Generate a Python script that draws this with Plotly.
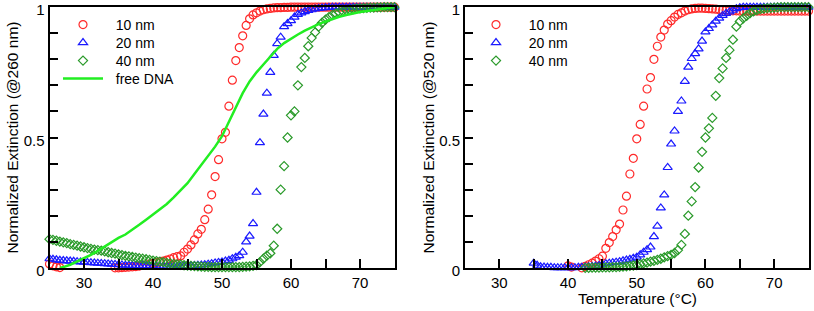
import plotly.graph_objects as go

# ---------------- data ----------------
temps_left = [25.0, 25.5, 26.0, 26.5, 27.0, 27.5, 28.0, 28.5, 29.0, 29.5,
              30.0, 30.5, 31.0, 31.5, 32.0, 32.5, 33.0, 33.5, 34.0, 34.5,
              35.0, 35.5, 36.0, 36.5, 37.0, 37.5, 38.0, 38.5, 39.0, 39.5,
              40.0, 40.5, 41.0, 41.5, 42.0, 42.5, 43.0, 43.5, 44.0, 44.5,
              45.0, 45.5, 46.0, 46.5, 47.0, 47.5, 48.0, 48.5, 49.0, 49.5,
              50.0, 50.5, 51.0, 51.5, 52.0, 52.5, 53.0, 53.5, 54.0, 54.5,
              55.0, 55.5, 56.0, 56.5, 57.0, 57.5, 58.0, 58.5, 59.0, 59.5,
              60.0, 60.5, 61.0, 61.5, 62.0, 62.5, 63.0, 63.5, 64.0, 64.5,
              65.0, 65.5, 66.0, 66.5, 67.0, 67.5, 68.0, 68.5, 69.0, 69.5,
              70.0, 70.5, 71.0, 71.5, 72.0, 72.5, 73.0, 73.5, 74.0, 74.5,
              75.0]

red_260 = [0.015, 0.008, 0.004, 0.001, -0.002, -0.003, -0.004, -0.004, -0.004, -0.004,
           -0.004, -0.003, -0.003, -0.003, -0.002, -0.002, -0.002, -0.001, -0.001, 0.0,
           0.0, 0.001, 0.002, 0.003, 0.004, 0.005, 0.007, 0.009, 0.011, 0.014,
           0.017, 0.02, 0.023, 0.026, 0.03, 0.034, 0.039, 0.043, 0.046, 0.06,
           0.072, 0.088, 0.107, 0.13, 0.148, 0.185, 0.225, 0.28, 0.35, 0.415,
           0.495, 0.52, 0.62, 0.72, 0.795, 0.845, 0.89, 0.93, 0.955, 0.97,
           0.978, 0.985, 0.99, 0.993, 0.995, 0.997, 0.998, 0.998, 0.999, 0.999,
           1.0, 1.0, 1.0, 1.0, 1.0, 1.0, 1.0, 1.0, 1.0, 1.0,
           1.0, 1.0, 1.0, 1.0, 1.0, 1.0, 1.0, 1.0, 1.0, 1.0,
           1.0, 1.0, 1.0, 1.0, 1.0, 1.0, 1.0, 1.0, 1.0, 1.0,
           1.0]

blue_260 = [0.035, 0.033, 0.031, 0.029, 0.028, 0.027, 0.026, 0.025, 0.024, 0.023,
            0.022, 0.021, 0.02, 0.019, 0.018, 0.017, 0.016, 0.015, 0.014, 0.013,
            0.012, 0.011, 0.01, 0.01, 0.009, 0.009, 0.008, 0.008, 0.008, 0.007,
            0.007, 0.007, 0.006, 0.006, 0.006, 0.006, 0.005, 0.005, 0.006, 0.006,
            0.007, 0.008, 0.009, 0.01, 0.011, 0.012, 0.014, 0.016, 0.019, 0.021,
            0.023, 0.026, 0.029, 0.035, 0.041, 0.047, 0.06, 0.1, 0.122, 0.17,
            0.29, 0.48, 0.59, 0.67, 0.75, 0.815, 0.86, 0.885, 0.925, 0.937,
            0.948, 0.962, 0.972, 0.978, 0.983, 0.987, 0.99, 0.993, 0.995, 0.997,
            0.998, 0.999, 1.0, 1.0, 1.0, 1.0, 1.0, 1.0, 1.0, 1.0,
            1.0, 1.0, 1.0, 1.0, 1.0, 1.0, 1.0, 1.0, 1.0, 1.0,
            1.0]

green_260 = [0.11, 0.107, 0.104, 0.101, 0.098, 0.095, 0.091, 0.088, 0.085, 0.082,
             0.079, 0.076, 0.073, 0.07, 0.068, 0.066, 0.063, 0.06, 0.057, 0.055,
             0.052, 0.049, 0.046, 0.044, 0.042, 0.039, 0.037, 0.035, 0.033, 0.031,
             0.028, 0.026, 0.024, 0.022, 0.019, 0.017, 0.015, 0.013, 0.012, 0.01,
             0.009, 0.008, 0.007, 0.006, 0.005, 0.004, 0.004, 0.003, 0.003, 0.003,
             0.003, 0.003, 0.003, 0.003, 0.003, 0.003, 0.004, 0.005, 0.006, 0.008,
             0.011, 0.022, 0.035, 0.047, 0.056, 0.085, 0.15, 0.3, 0.39, 0.5,
             0.585, 0.6, 0.7, 0.77, 0.805, 0.85, 0.882, 0.903, 0.925, 0.94,
             0.952, 0.962, 0.97, 0.976, 0.981, 0.985, 0.988, 0.99, 0.992, 0.994,
             0.995, 0.996, 0.997, 0.998, 0.998, 0.999, 0.999, 1.0, 1.0, 1.0,
             1.0]

dna_temps = [26.5, 27, 28, 29, 30, 31, 32, 33, 34, 35, 36, 37, 38, 39, 40,
             41, 42, 43, 44, 45, 46, 47, 48, 49, 50, 51, 52, 53, 54, 55,
             56, 57, 58, 59, 60, 61, 62, 63, 64, 65, 66, 67, 68, 69, 70,
             71, 72, 73, 74, 75]
free_dna = [0.0, 0.003, 0.012, 0.024, 0.037, 0.05, 0.065, 0.082, 0.1, 0.115,
            0.128, 0.145, 0.165, 0.185, 0.205, 0.225, 0.245, 0.27, 0.298, 0.325,
            0.36, 0.395, 0.43, 0.465, 0.505, 0.56, 0.615, 0.67, 0.715, 0.75,
            0.78, 0.81, 0.84, 0.862, 0.88, 0.895, 0.91, 0.923, 0.935, 0.945,
            0.955, 0.963, 0.97, 0.976, 0.981, 0.985, 0.989, 0.993, 0.997, 1.0]

temps_right = [35.0, 35.5, 36.0, 36.5, 37.0, 37.5, 38.0, 38.5, 39.0, 39.5,
               40.0, 40.5, 41.0, 41.5, 42.0, 42.5, 43.0, 43.5, 44.0, 44.5,
               45.0, 45.5, 46.0, 46.5, 47.0, 47.5, 48.0, 48.5, 49.0, 49.5,
               50.0, 50.5, 51.0, 51.5, 52.0, 52.5, 53.0, 53.5, 54.0, 54.5,
               55.0, 55.5, 56.0, 56.5, 57.0, 57.5, 58.0, 58.5, 59.0, 59.5,
               60.0, 60.5, 61.0, 61.5, 62.0, 62.5, 63.0, 63.5, 64.0, 64.5,
               65.0, 65.5, 66.0, 66.5, 67.0, 67.5, 68.0, 68.5, 69.0, 69.5,
               70.0, 70.5, 71.0, 71.5, 72.0, 72.5, 73.0, 73.5, 74.0, 74.5,
               75.0]

blue_520 = [0.018, 0.01, 0.004, 0.003, 0.002, 0.002, 0.001, 0.001, 0.001, 0.001,
            0.001, 0.001, 0.001, 0.002, 0.002, 0.003, 0.004, 0.005, 0.007, 0.009,
            0.012, 0.016, 0.018, 0.02, 0.022, 0.024, 0.027, 0.03, 0.033, 0.037,
            0.041, 0.05, 0.06, 0.07, 0.08, 0.12, 0.16, 0.23, 0.28, 0.385,
            0.475, 0.525, 0.6, 0.64, 0.715, 0.77, 0.803, 0.822, 0.84, 0.87,
            0.905, 0.918, 0.932, 0.946, 0.958, 0.968, 0.976, 0.982, 0.988, 0.994,
            0.998, 1.0, 1.0, 1.0, 1.0, 1.0, 1.0, 1.0, 1.0, 1.0,
            1.0, 1.0, 1.0, 1.0, 1.0, 1.0, 1.0, 1.0, 1.0, 1.0,
            1.0]

red_520 = [0.008, 0.003, -0.003, -0.005, 0.0, 0.006, 0.012, 0.018, 0.026, 0.035,
           0.045, 0.075, 0.097, 0.12, 0.146, 0.168, 0.222, 0.275, 0.36, 0.42,
           0.495, 0.55, 0.62, 0.686, 0.73, 0.8, 0.85, 0.885, 0.912, 0.935,
           0.948, 0.962, 0.972, 0.978, 0.985, 0.99, 0.993, 0.995, 0.996, 0.996,
           0.995, 0.994, 0.993, 0.992, 0.99, 0.989, 0.988, 0.987, 0.986, 0.986,
           0.985, 0.985, 0.985, 0.985, 0.985, 0.985, 0.985, 0.985, 0.985, 0.985,
           0.985, 0.985, 0.985, 0.985, 0.985, 0.985, 0.985, 0.985, 0.985, 0.985,
           0.985]

green_520 = [0.0, 0.0, 0.001, 0.001, 0.001,
             0.002, 0.002, 0.002, 0.003, 0.003, 0.004, 0.005, 0.006, 0.008, 0.009,
             0.011, 0.014, 0.017, 0.02, 0.024, 0.027, 0.031, 0.035, 0.04, 0.045,
             0.05, 0.057, 0.068, 0.088, 0.13, 0.2, 0.255, 0.31, 0.385, 0.445,
             0.5, 0.535, 0.575, 0.66, 0.728, 0.765, 0.805, 0.835, 0.875, 0.925,
             0.945, 0.957, 0.967, 0.977, 0.984, 0.989, 0.992, 0.994, 0.996, 0.997,
             0.998, 0.999, 1.0, 1.0, 1.0, 1.0, 1.0, 1.0, 1.0, 1.0,
             1.0]

series_names = ["10 nm", "20 nm", "40 nm"]
line_name = "free DNA"
x_ticks = [30, 35, 40, 45, 50, 55, 60, 65, 70]
x_ticktext = ["30", "", "40", "", "50", "", "60", "", "70"]
y_ticks = [0, 0.1, 0.2, 0.3, 0.4, 0.5, 0.6, 0.7, 0.8, 0.9, 1.0]
y_ticktext = ["0", "", "", "", "", "0.5", "", "", "", "", "1"]

assert len(red_260) == len(temps_left) == len(blue_260) == len(green_260)
assert len(dna_temps) == len(free_dna)
assert len(blue_520) == len(temps_right)
assert len(red_520) == len(temps_right[10:])
assert len(green_520) == len(temps_right[15:])

# ---------------- styles ----------------
RED = "#ff2a2a"
BLUE = "#1a1aff"
GREEN = "#2a9a2a"
LIME = "#22ee22"
FONT = "Liberation Sans, Arial, sans-serif"
W, H = 814, 311
T, B = 7, 43
PH = H - T - B
PAD = "\u00a0\u00a0"  # extra gap between legend symbol and text

mk = dict(
    circle=dict(symbol="circle-open", size=8, color=RED, line=dict(width=1.2, color=RED)),
    tri=dict(symbol="triangle-up-open", size=8, color=BLUE, line=dict(width=1.2, color=BLUE)),
    dia=dict(symbol="diamond-open", size=7, color=GREEN, line=dict(width=1.2, color=GREEN)),
)

fig = go.Figure()

# left panel
fig.add_trace(go.Scatter(x=temps_left, y=red_260, mode="markers", name=PAD + series_names[0],
                         marker=mk["circle"], xaxis="x", yaxis="y", cliponaxis=False, legend="legend"))
fig.add_trace(go.Scatter(x=temps_left, y=blue_260, mode="markers", name=PAD + series_names[1],
                         marker=mk["tri"], xaxis="x", yaxis="y", cliponaxis=False, legend="legend2"))
fig.add_trace(go.Scatter(x=temps_left, y=green_260, mode="markers", name=PAD + series_names[2],
                         marker=mk["dia"], xaxis="x", yaxis="y", cliponaxis=False, legend="legend3"))
fig.add_trace(go.Scatter(x=dna_temps, y=free_dna, mode="lines", name=PAD + line_name,
                         line=dict(color=LIME, width=2.5), xaxis="x", yaxis="y",
                         cliponaxis=False, legend="legend4"))

# right panel
fig.add_trace(go.Scatter(x=temps_right[10:], y=red_520, mode="markers", name=PAD + series_names[0],
                         marker=mk["circle"], xaxis="x2", yaxis="y2", cliponaxis=False, legend="legend5"))
fig.add_trace(go.Scatter(x=temps_right, y=blue_520, mode="markers", name=PAD + series_names[1],
                         marker=mk["tri"], xaxis="x2", yaxis="y2", cliponaxis=False, legend="legend6"))
fig.add_trace(go.Scatter(x=temps_right[15:], y=green_520, mode="markers", name=PAD + series_names[2],
                         marker=mk["dia"], xaxis="x2", yaxis="y2", cliponaxis=False, legend="legend7"))

axis_common = dict(showline=True, linecolor="black", linewidth=2, mirror=True,
                   ticks="inside", ticklen=9, tickwidth=2, tickcolor="black",
                   showgrid=False, zeroline=False, automargin=False,
                   ticklabeloverflow="allow",
                   tickfont=dict(family=FONT, size=15, color="black"))

xa = dict(axis_common, range=[25, 75], tickmode="array", tickvals=x_ticks, ticktext=x_ticktext)
ya = dict(axis_common, range=[-0.0005, 1.0005], tickmode="array", tickvals=y_ticks,
          ticktext=y_ticktext, ticklen=8, ticklabelshift=3)


def leg(px_x, px_y):
    return dict(x=px_x / W, y=(H - B - px_y) / PH, xanchor="left", yanchor="middle",
                bgcolor="rgba(0,0,0,0)", borderwidth=0, itemwidth=40,
                font=dict(family=FONT, size=14, color="black"))


rows = [25, 43, 61, 79]
legends = {}
for i, r in enumerate(rows):
    legends["legend" if i == 0 else f"legend{i + 1}"] = leg(58, r)
for i, r in enumerate(rows[:3]):
    legends[f"legend{i + 5}"] = leg(471, r)

fig.update_layout(
    width=W, height=H, autosize=False,
    margin=dict(l=0, r=0, t=T, b=B, pad=0, autoexpand=False),
    paper_bgcolor="white", plot_bgcolor="white",
    font=dict(family=FONT, size=14, color="black"),
    xaxis=dict(xa, domain=[49.5 / W, 394.5 / W], anchor="y"),
    yaxis=dict(ya, domain=[0, 1], anchor="x"),
    xaxis2=dict(xa, domain=[465 / W, 808.5 / W], anchor="y2"),
    yaxis2=dict(ya, domain=[0, 1], anchor="x2"),
    showlegend=True,
    annotations=[
        dict(text="Normalized Extinction (@260 nm)", textangle=-90, x=12 / W, y=0.5,
             xref="paper", yref="paper", xanchor="center", yanchor="middle",
             showarrow=False, font=dict(family=FONT, size=15.5, color="black")),
        dict(text="Normalized Extinction (@520 nm)", textangle=-90, x=428 / W, y=0.5,
             xref="paper", yref="paper", xanchor="center", yanchor="middle",
             showarrow=False, font=dict(family=FONT, size=15.5, color="black")),
        dict(text="Temperature (°C)", x=637 / W, y=-(298 - (H - B)) / PH,
             xref="paper", yref="paper", xanchor="center", yanchor="middle",
             showarrow=False, font=dict(family=FONT, size=15.5, color="black")),
    ],
    **legends,
)

fig.write_html("out.html", config={"displayModeBar": False},
               post_script="document.body.style.margin='0px';")
